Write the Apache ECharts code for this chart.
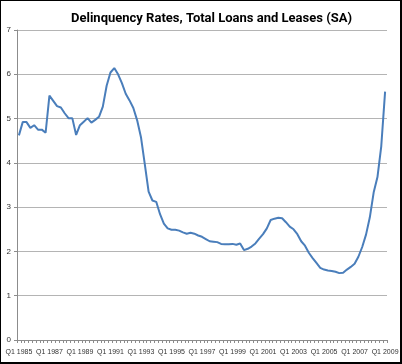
<!DOCTYPE html>
<html><head><meta charset="utf-8">
<script src="https://cdn.jsdelivr.net/npm/echarts@6/dist/echarts.min.js"></script>
<style>
html,body{margin:0;padding:0;background:#fff;}
#c{position:absolute;left:0;top:0;width:402px;height:364px;}
#b{position:absolute;left:0;top:0;width:402px;height:364px;box-sizing:border-box;border:1px solid #000;border-right:2px solid #000;border-bottom:2px solid #000;pointer-events:none;}
</style></head>
<body><div id="c"></div><div id="b"></div>
<script>
const title = "Delinquency Rates, Total Loans and Leases (SA)";
const startYear = 1985, endYear = 2009;
const quarters = [];
for (let y = startYear; y <= endYear; y++) {
  for (let q = 1; q <= 4; q++) {
    if (y === endYear && q > 1) break;
    quarters.push("Q" + q + " " + y);
  }
}
const rates = [
  4.62, 4.92, 4.92, 4.79, 4.85, 4.75, 4.75, 4.68,
  5.52, 5.40, 5.28, 5.25, 5.12, 5.01, 5.01, 4.63,
  4.85, 4.93, 5.01, 4.91, 4.97, 5.04, 5.27, 5.74,
  6.04, 6.14, 6.00, 5.80, 5.56, 5.41, 5.24, 4.96,
  4.58, 3.97, 3.35, 3.15, 3.12, 2.84, 2.63, 2.52,
  2.49, 2.49, 2.47, 2.43, 2.40, 2.42, 2.40, 2.36,
  2.33, 2.28, 2.23, 2.22, 2.21, 2.17, 2.16, 2.16,
  2.17, 2.15, 2.18, 2.03, 2.06, 2.11, 2.18, 2.29,
  2.39, 2.52, 2.71, 2.74, 2.76, 2.75, 2.66, 2.56,
  2.50, 2.39, 2.23, 2.13, 1.97, 1.85, 1.74, 1.63,
  1.59, 1.57, 1.56, 1.54, 1.51, 1.52, 1.59, 1.65,
  1.72, 1.88, 2.10, 2.38, 2.77, 3.33, 3.68, 4.38,
  5.61
];
const chart = echarts.init(document.getElementById('c'), null, {renderer:'canvas'});
chart.setOption({
  animation:false,
  backgroundColor:'#fff',
  title:{text:title,left:66,top:7,textStyle:{fontFamily:'Roboto',fontWeight:'bold',fontSize:13,color:'#000'}},
  grid:{left:17,right:15,top:30,bottom:24,containLabel:false},
  xAxis:{type:'category',data:quarters,boundaryGap:true,
    axisLine:{lineStyle:{color:'#8c8c8c',width:1}},
    axisTick:{show:true,interval:0,length:3,lineStyle:{color:'#8c8c8c'}},
    axisLabel:{interval:7,fontSize:7,color:'#333',margin:9,fontFamily:'Liberation Sans',
      showMinLabel:true,showMaxLabel:true,hideOverlap:false}},
  yAxis:{type:'value',min:0,max:7,interval:1,
    axisLine:{show:true,lineStyle:{color:'#8c8c8c'}},
    axisTick:{show:true,length:3,lineStyle:{color:'#8c8c8c'}},
    axisLabel:{fontSize:8,color:'#333',margin:6,fontFamily:'Liberation Sans'},
    splitLine:{lineStyle:{color:'#b4b4b4',width:1}}},
  series:[{type:'line',data:rates,showSymbol:false,symbol:'none',
    lineStyle:{color:'#4a7ebb',width:2}}]
});
</script></body></html>
